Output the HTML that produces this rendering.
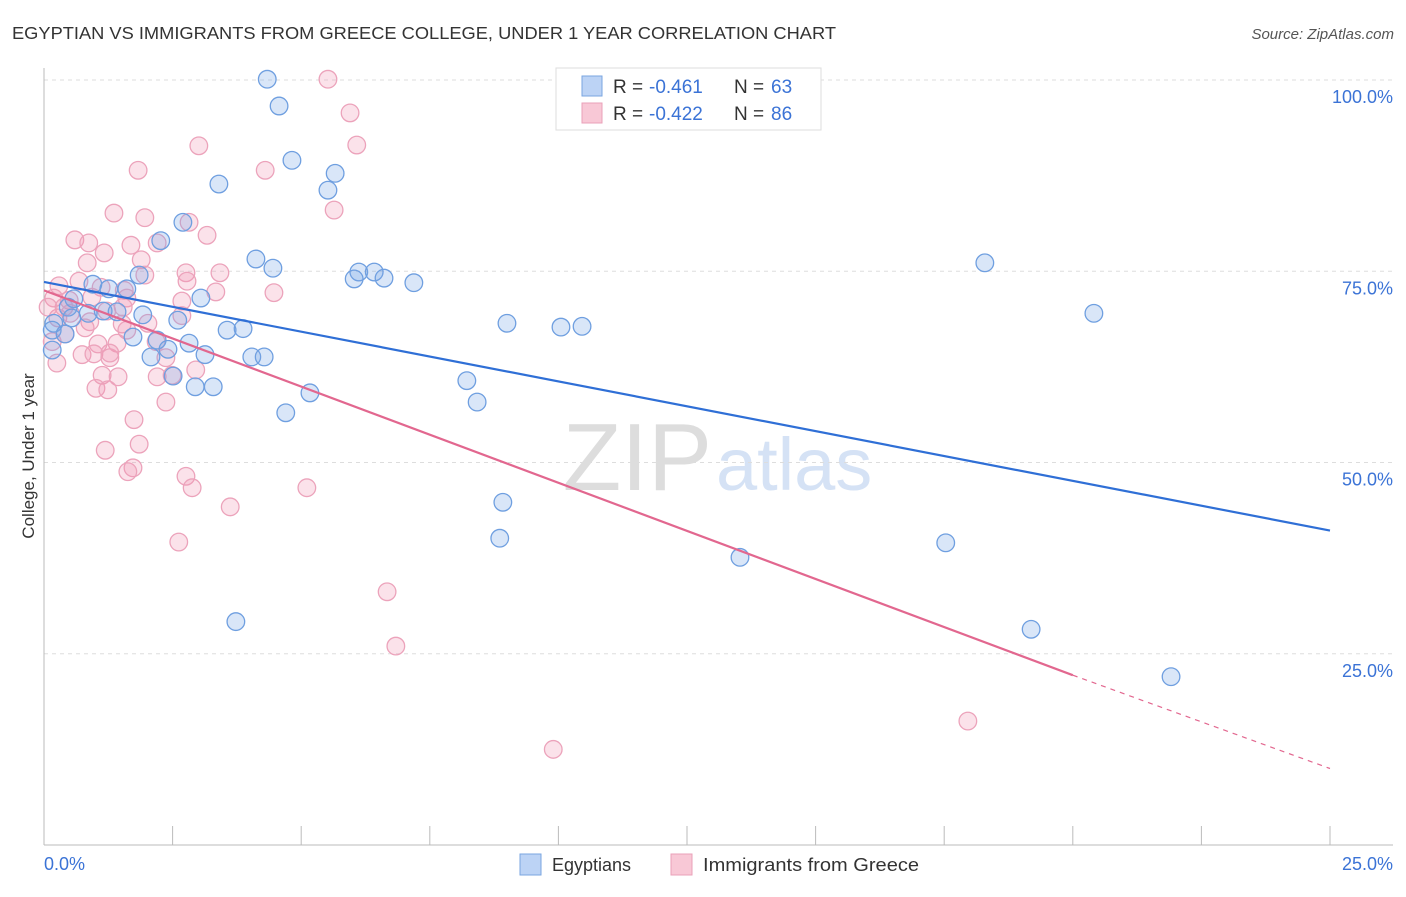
<!DOCTYPE html>
<html><head><meta charset="utf-8"><style>
body{margin:0;background:#fff;font-family:"Liberation Sans",sans-serif;}
svg text{font-family:"Liberation Sans",sans-serif;}
</style></head><body>
<svg id="c" width="1406" height="892" xmlns="http://www.w3.org/2000/svg">
<text x="12" y="39" font-size="17.5" fill="#333" textLength="824" lengthAdjust="spacingAndGlyphs">EGYPTIAN VS IMMIGRANTS FROM GREECE COLLEGE, UNDER 1 YEAR CORRELATION CHART</text>
<text x="1394" y="39" font-size="15" fill="#555" font-style="italic" text-anchor="end">Source: ZipAtlas.com</text>
<text x="712" y="490" font-size="96" fill="#ddd" text-anchor="end" font-family="Liberation Serif">ZIP</text>
<text x="716" y="490" font-size="74" fill="#d5e2f5">atlas</text>
<g id="grid"></g>
<g id="pts"></g>
<g id="lines"></g>
<text transform="translate(34,456) rotate(-90)" font-size="17" fill="#333" text-anchor="middle">College, Under 1 year</text>
<g>
<rect x="556" y="68" width="265" height="62" fill="#fff" stroke="#ddd"/>
<rect x="582" y="76" width="20" height="20" fill="#bcd3f5" stroke="#7aa6e0"/>
<rect x="582" y="103" width="20" height="20" fill="#f8c8d6" stroke="#eaa0b8"/>
<text y="93" font-size="19" fill="#333"><tspan x="613">R =</tspan><tspan x="649" fill="#3b73d6">-0.461</tspan><tspan x="734">N =</tspan><tspan x="771" fill="#3b73d6">63</tspan></text>
<text y="120" font-size="19" fill="#333"><tspan x="613">R =</tspan><tspan x="649" fill="#3b73d6">-0.422</tspan><tspan x="734">N =</tspan><tspan x="771" fill="#3b73d6">86</tspan></text>
</g>
<g>
<rect x="520" y="854" width="21" height="21" fill="#bcd3f5" stroke="#7aa6e0"/>
<text x="552" y="871" font-size="18" fill="#333">Egyptians</text>
<rect x="671" y="854" width="21" height="21" fill="#f8c8d6" stroke="#eaa0b8"/>
<text x="703" y="871" font-size="18" fill="#333" textLength="216" lengthAdjust="spacingAndGlyphs">Immigrants from Greece</text>
</g>
</svg>
<script>
const xTicks=[0,2.5,5,7.5,10,12.5,15,17.5,20,22.5,25];
const yTicks=[25,50,75,100];
const yTickLabels=["25.0%","50.0%","75.0%","100.0%"];
const bluePx=[[267,79],[279,106],[292,160],[335,173],[328,190],[219,184],[183,222],[161,241],[256,259],[273,268],[359,272],[374,272],[354,279],[384,278],[414,283],[139,275],[109,289],[127,289],[93,284],[201,298],[74,299],[68,307],[103,311],[88,313],[117,312],[143,315],[178,320],[72,318],[54,323],[52,330],[227,330],[243,329],[507,323],[561,327],[582,326],[133,337],[65,334],[157,340],[189,343],[205,355],[151,357],[168,349],[252,357],[264,357],[173,376],[467,381],[195,387],[213,387],[310,393],[477,402],[286,413],[985,263],[1094,313],[503,502],[500,538],[740,557],[946,543],[1031,629],[1171,677],[236,622],[52,350]];
const pinkPx=[[328,79],[350,113],[357,145],[199,146],[138,170],[265,170],[334,210],[114,213],[145,218],[189,222],[207,235],[75,240],[89,243],[131,245],[157,243],[104,253],[141,260],[87,263],[186,273],[220,273],[145,275],[187,281],[79,281],[59,286],[101,287],[124,290],[216,292],[274,293],[54,298],[69,300],[92,297],[127,298],[182,301],[64,307],[123,307],[107,311],[182,316],[58,318],[148,323],[90,322],[122,324],[85,328],[127,330],[65,334],[98,344],[117,343],[156,342],[82,355],[94,354],[110,358],[110,353],[166,358],[196,370],[102,375],[118,377],[157,377],[172,375],[96,388],[108,390],[166,402],[134,420],[139,444],[105,450],[133,468],[128,472],[186,476],[192,488],[307,488],[230,507],[179,542],[387,592],[396,646],[553,749],[968,721],[57,363],[52,342],[48,307],[70,313]];
const egyptX=bluePx.map(p=>+((p[0]-44)/1286*25).toFixed(2));
const egyptY=bluePx.map(p=>+((845-p[1])/7.65).toFixed(1));
const greeceX=pinkPx.map(p=>+((p[0]-44)/1286*25).toFixed(2));
const greeceY=pinkPx.map(p=>+((845-p[1])/7.65).toFixed(1));
const blueTrend=[[0,73.6],[25,41.1]];
const pinkTrend=[[0,72.5],[20,22.2],[25,10.0]];
const X=v=>44+v/25*1286, Y=v=>845-v*7.65;
const NS="http://www.w3.org/2000/svg";
function mk(tag,attrs,parent){const e=document.createElementNS(NS,tag);for(const k in attrs)e.setAttribute(k,attrs[k]);parent.appendChild(e);return e;}
const grid=document.getElementById('grid');
yTicks.forEach((t,i)=>{
 const l=mk('line',{x1:44,x2:1393,y1:Y(t),y2:Y(t),stroke:'#ddd','stroke-dasharray':'4,4'},grid);
 
 
 const tx=mk('text',{x:1393,y:Y(t)+23,'font-size':18,fill:'#3b73d6','text-anchor':'end'},grid);
 tx.textContent=yTickLabels[i];
 
 
});
const ax=mk('line',{x1:44,x2:1393,y1:845,y2:845,stroke:'#bbb'},grid);


const ay=mk('line',{x1:44,x2:44,y1:68,y2:845,stroke:'#bbb'},grid);


xTicks.forEach(t=>{
 const l=mk('line',{x1:X(t),x2:X(t),y1:826,y2:845,stroke:'#bbb'},grid);
 
 
});
[[0,'0.0%','start',44],[25,'25.0%','end',1393]].forEach(a=>{
 const tx=mk('text',{x:a[3],y:870,'font-size':18,fill:'#3b73d6','text-anchor':a[2]},grid);
 tx.textContent=a[1];
 
 
});
const pts=document.getElementById('pts');
greeceX.forEach((x,i)=>{
 const c=mk('circle',{cx:X(x),cy:Y(greeceY[i]),r:8.8,fill:'rgba(242,150,180,0.28)',stroke:'#eca3bb','stroke-width':1.3},pts);
 
 
});
egyptX.forEach((x,i)=>{
 const c=mk('circle',{cx:X(x),cy:Y(egyptY[i]),r:8.8,fill:'rgba(120,165,230,0.28)',stroke:'#6f9fe0','stroke-width':1.3},pts);
 
 
});
const lines=document.getElementById('lines');
const bl=mk('line',{x1:X(blueTrend[0][0]),y1:Y(blueTrend[0][1]),x2:X(blueTrend[1][0]),y2:Y(blueTrend[1][1]),stroke:'#2f6fd6','stroke-width':2.2},lines);


const pl=mk('line',{x1:X(pinkTrend[0][0]),y1:Y(pinkTrend[0][1]),x2:X(pinkTrend[1][0]),y2:Y(pinkTrend[1][1]),stroke:'#e2678f','stroke-width':2.2},lines);


const pd=mk('line',{x1:X(pinkTrend[1][0]),y1:Y(pinkTrend[1][1]),x2:X(pinkTrend[2][0]),y2:Y(pinkTrend[2][1]),stroke:'#e2678f','stroke-width':1.2,'stroke-dasharray':'5,5'},lines);


</script>
</body></html>
